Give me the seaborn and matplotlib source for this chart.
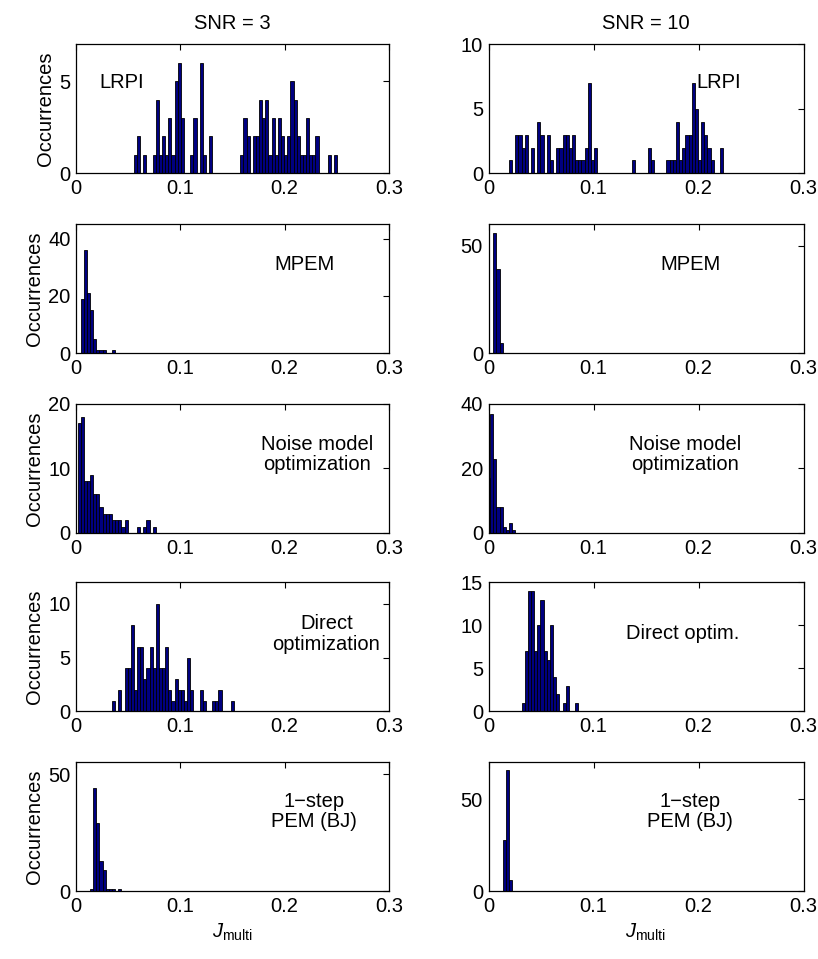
import numpy as np
import pandas as pd
import matplotlib
matplotlib.use("Agg")
import matplotlib.pyplot as plt
import seaborn as sns

# histogram bins are centred on J = 0, 0.003, ..., 0.3 ; lists below hold bin index k (J = 0.003*k)
BIN_W = 0.003
N_BINS = 101

lrpi3_bin = [19, 20, 22, 25, 26, 27, 28, 29, 30, 31, 32, 33, 34, 37, 38, 40, 41, 43,
             53, 54, 55, 57, 58, 59, 60, 61, 62, 63, 64, 65, 66, 67, 68, 69, 70, 71, 72, 73,
             74, 75, 76, 77, 81, 83]
lrpi3_n = [1, 2, 1, 1, 4, 1, 2, 1, 3, 1, 5, 6, 3, 1, 3, 6, 1, 2,
           1, 3, 2, 2, 2, 4, 3, 4, 1, 3, 1, 3, 2, 1, 2, 5, 4, 2, 1, 1,
           3, 1, 1, 2, 1, 1]
lrpi10_bin = [7, 9, 10, 11, 12, 14, 16, 17, 19, 20, 22, 23, 24, 25, 26, 27, 28, 29, 30, 31,
              32, 33, 34, 46, 51, 52, 57, 58, 59, 60, 61, 62, 63, 64, 65, 66, 67, 68, 69, 70,
              71, 74]
lrpi10_n = [1, 3, 3, 2, 3, 2, 4, 3, 3, 1, 2, 2, 3, 3, 2, 3, 1, 1, 1, 2,
            7, 1, 2, 1, 2, 1, 1, 1, 1, 4, 1, 2, 3, 3, 7, 5, 1, 4, 3, 2,
            1, 2]

mpem3_bin = [2, 3, 4, 5, 6, 7, 8, 9, 12]
mpem3_n = [19, 36, 21, 15, 5, 1, 1, 1, 1]
mpem10_bin = [2, 3, 4]
mpem10_n = [56, 39, 5]

noise3_bin = [1, 2, 3, 4, 5, 6, 7, 8, 9, 10, 11, 12, 13, 14, 15, 16, 20, 22, 23, 25]
noise3_n = [17, 18, 8, 8, 9, 6, 6, 4, 3, 3, 3, 2, 2, 2, 1, 2, 1, 1, 2, 1]
noise10_bin = [0, 1, 2, 3, 4, 5, 6, 7, 8]
noise10_n = [17, 37, 23, 8, 8, 2, 1, 3, 1]

direct3_bin = [12, 14, 16, 17, 18, 19, 20, 21, 22, 23, 24, 25, 26, 27, 28, 29, 30, 31, 32,
               33, 34, 35, 36, 37, 40, 41, 44, 45, 46, 50]
direct3_n = [1, 2, 4, 4, 8, 2, 6, 6, 3, 4, 6, 4, 10, 4, 4, 6, 2, 1, 3,
             2, 2, 1, 5, 2, 2, 1, 1, 1, 2, 1]
direct10_bin = [11, 12, 13, 14, 15, 16, 17, 18, 19, 20, 21, 22, 24, 25, 28]
direct10_n = [1, 7, 14, 14, 7, 10, 13, 7, 6, 10, 4, 2, 1, 3, 1]

pem3_bin = [5, 6, 7, 8, 9, 10, 11, 12, 14]
pem3_n = [1, 44, 29, 13, 9, 1, 1, 1, 1]
pem10_bin = [5, 6, 7]
pem10_n = [28, 66, 6]

col_titles = ["SNR = 3", "SNR = 10"]
x_ticks = [0, 0.1, 0.2, 0.3]
x_ticklabels = ["0", "0.1", "0.2", "0.3"]

# (label left, label right, data left, data right, ylim/yticks left, ylim/yticks right, label positions)
rows = [
    ("LRPI", "LRPI", (lrpi3_bin, lrpi3_n), (lrpi10_bin, lrpi10_n),
     (7, [0, 5]), (10, [0, 5, 10]), (0.145, 0.70), (0.73, 0.70)),
    ("MPEM", "MPEM", (mpem3_bin, mpem3_n), (mpem10_bin, mpem10_n),
     (45, [0, 20, 40]), (60, [0, 50]), (0.73, 0.69), (0.64, 0.69)),
    ("Noise model\noptimization", "Noise model\noptimization", (noise3_bin, noise3_n),
     (noise10_bin, noise10_n), (20, [0, 10, 20]), (40, [0, 20, 40]), (0.77, 0.61), (0.625, 0.61)),
    ("Direct\noptimization", "Direct optim.", (direct3_bin, direct3_n), (direct10_bin, direct10_n),
     (12, [0, 5, 10]), (15, [0, 5, 10, 15]), (0.80, 0.60), (0.615, 0.60)),
    ("1\u2212step\nPEM (BJ)", "1\u2212step\nPEM (BJ)", (pem3_bin, pem3_n), (pem10_bin, pem10_n),
     (55, [0, 50]), (70, [0, 50]), (0.76, 0.62), (0.64, 0.62)),
]

sns.set_theme(style="white")
plt.rcParams["font.family"] = ["Liberation Sans", "DejaVu Sans"]
plt.rcParams["mathtext.fontset"] = "custom"
plt.rcParams["mathtext.rm"] = "Liberation Sans"
plt.rcParams["mathtext.it"] = "Liberation Sans:italic"
for key in ["text.color", "axes.labelcolor", "xtick.color", "ytick.color", "axes.edgecolor"]:
    plt.rcParams[key] = "black"

FS = 14.5
W, H = 818, 959
fig = plt.figure(figsize=(W / 100, H / 100), dpi=100)

col_left = [76, 488.5]
col_width = [313, 315]
row_top = [44.3, 224.3, 404, 582.3, 762.3]
ax_h = 129

for r, (lab3, lab10, d3, d10, y3, y10, p3, p10) in enumerate(rows):
    for c, (lab, d, ylim, pos) in enumerate([(lab3, d3, y3, p3), (lab10, d10, y10, p10)]):
        ax = fig.add_axes([col_left[c] / W, 1 - (row_top[r] + ax_h) / H,
                           col_width[c] / W, ax_h / H])
        df = pd.DataFrame({"J": np.array(d[0]) * BIN_W, "n": d[1]})
        sns.histplot(data=df, x="J", weights="n", binwidth=BIN_W,
                     binrange=(-BIN_W / 2, (N_BINS - 0.5) * BIN_W), ax=ax,
                     color="#000080", edgecolor="black", linewidth=0.6, alpha=1)
        ax.set_xlim(0, 0.3)
        ax.set_ylim(0, ylim[0])
        ax.set_xticks(x_ticks)
        ax.set_xticklabels(x_ticklabels)
        ax.set_yticks(ylim[1])
        ax.tick_params(direction="in", length=4, width=0.8, top=True, right=True,
                       labelsize=FS, pad=4, colors="black")
        for s in ax.spines.values():
            s.set_color("black")
            s.set_linewidth(0.9)
        ax.text(pos[0], pos[1], lab, transform=ax.transAxes, ha="center", va="center",
                fontsize=FS, linespacing=1.1)
        ax.set_xlabel("")
        ax.set_ylabel("Occurrences" if c == 0 else "", fontsize=FS, labelpad=3)
        if r == 0:
            ax.set_title(col_titles[c], fontsize=FS, pad=11)
        if r == len(rows) - 1:
            ax.set_xlabel(r"$J_{\mathrm{multi}}$", fontsize=FS, labelpad=4)

fig.savefig("out.png", dpi=100)
